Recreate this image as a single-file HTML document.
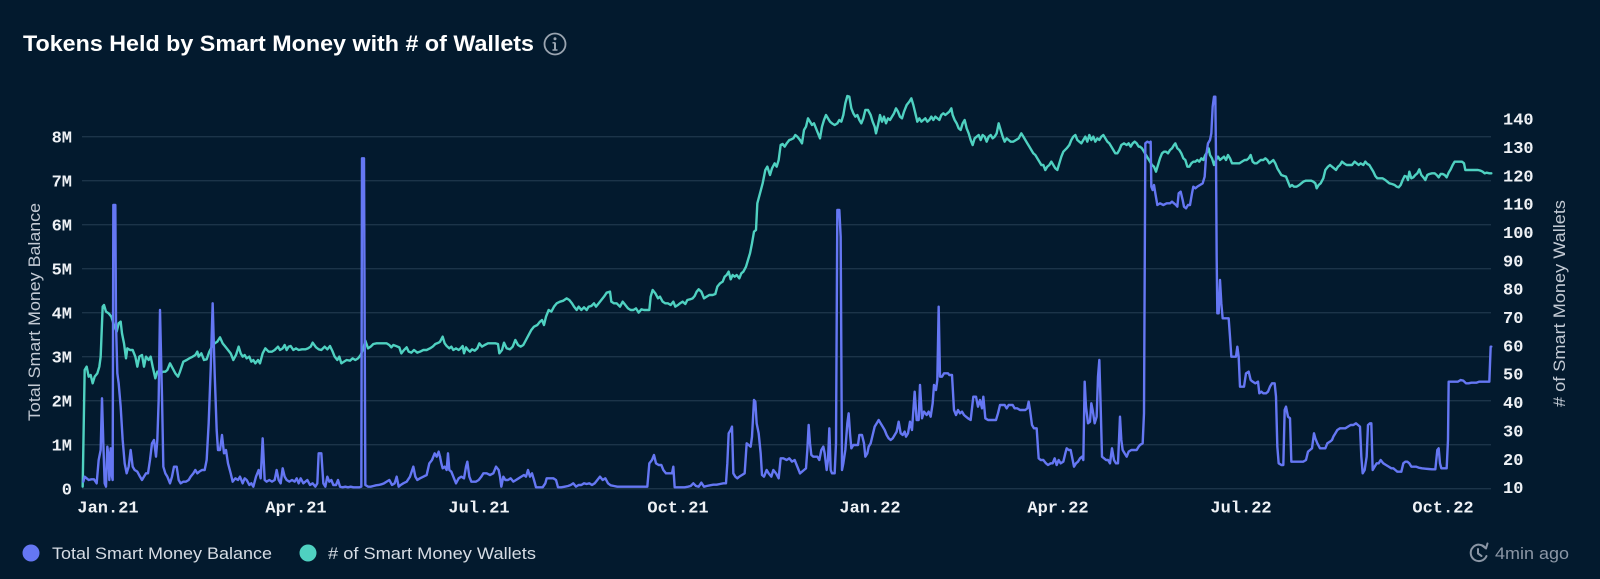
<!DOCTYPE html>
<html>
<head>
<meta charset="utf-8">
<style>
  html,body{margin:0;padding:0;background:#031a2e;}
  svg{display:block;}
  .ax{font-family:"Liberation Mono",monospace;font-weight:bold;font-size:17px;fill:#eef1f5;}
  .sans{font-family:"Liberation Sans",sans-serif;}
</style>
</head>
<body>
<svg width="1600" height="579" viewBox="0 0 1600 579" xmlns="http://www.w3.org/2000/svg">
  <rect x="0" y="0" width="1600" height="579" fill="#031a2e"/>

  <!-- Title -->
  <text class="sans" x="23" y="51" font-size="22" font-weight="bold" fill="#ffffff" textLength="511" lengthAdjust="spacingAndGlyphs">Tokens Held by Smart Money with # of Wallets</text>
  <circle cx="555" cy="44" r="10.5" fill="none" stroke="#9aa4b0" stroke-width="1.8"/>
  <circle cx="555" cy="38.8" r="1.5" fill="#9aa4b0"/>
  <line x1="555" y1="42.5" x2="555" y2="50" stroke="#9aa4b0" stroke-width="2"/>
  <line x1="552.5" y1="42.8" x2="555" y2="42.8" stroke="#9aa4b0" stroke-width="1.5"/>
  <line x1="552.5" y1="50" x2="557.5" y2="50" stroke="#9aa4b0" stroke-width="1.5"/>

  <!-- Gridlines -->
  <g stroke="#1c3449" stroke-width="1.3">
    <line x1="82" y1="136.7" x2="1491" y2="136.7"/>
    <line x1="82" y1="180.7" x2="1491" y2="180.7"/>
    <line x1="82" y1="224.7" x2="1491" y2="224.7"/>
    <line x1="82" y1="268.7" x2="1491" y2="268.7"/>
    <line x1="82" y1="312.7" x2="1491" y2="312.7"/>
    <line x1="82" y1="356.7" x2="1491" y2="356.7"/>
    <line x1="82" y1="400.7" x2="1491" y2="400.7"/>
    <line x1="82" y1="444.7" x2="1491" y2="444.7"/>
    <line x1="82" y1="488.7" x2="1491" y2="488.7"/>
  </g>

  <!-- Left axis labels -->
  <g class="ax" text-anchor="end">
    <text x="72" y="142.5">8M</text>
    <text x="72" y="186.5">7M</text>
    <text x="72" y="230.5">6M</text>
    <text x="72" y="274.5">5M</text>
    <text x="72" y="318.5">4M</text>
    <text x="72" y="362.5">3M</text>
    <text x="72" y="406.5">2M</text>
    <text x="72" y="450.5">1M</text>
    <text x="72" y="494.5">0</text>
  </g>

  <!-- Right axis labels -->
  <g class="ax" text-anchor="start">
    <text x="1503" y="124.6">140</text>
    <text x="1503" y="152.9">130</text>
    <text x="1503" y="181.3">120</text>
    <text x="1503" y="209.6">110</text>
    <text x="1503" y="238.0">100</text>
    <text x="1503" y="266.3">90</text>
    <text x="1503" y="294.7">80</text>
    <text x="1503" y="323.0">70</text>
    <text x="1503" y="351.4">60</text>
    <text x="1503" y="379.7">50</text>
    <text x="1503" y="408.1">40</text>
    <text x="1503" y="436.4">30</text>
    <text x="1503" y="464.8">20</text>
    <text x="1503" y="493.1">10</text>
  </g>

  <!-- X axis labels -->
  <g class="ax" text-anchor="middle">
    <text x="108" y="512.5">Jan.21</text>
    <text x="296" y="512.5">Apr.21</text>
    <text x="479" y="512.5">Jul.21</text>
    <text x="678" y="512.5">Oct.21</text>
    <text x="870" y="512.5">Jan.22</text>
    <text x="1058" y="512.5">Apr.22</text>
    <text x="1241" y="512.5">Jul.22</text>
    <text x="1443" y="512.5">Oct.22</text>
  </g>

  <!-- Axis titles -->
  <text class="sans" transform="translate(34,312) rotate(-90)" x="0" y="6" text-anchor="middle" font-size="17" fill="#c3cad4" textLength="218" lengthAdjust="spacingAndGlyphs">Total Smart Money Balance</text>
  <text class="sans" transform="translate(1559,303.5) rotate(-90)" x="0" y="6" text-anchor="middle" font-size="17" fill="#c3cad4" textLength="207" lengthAdjust="spacingAndGlyphs"># of Smart Money Wallets</text>

  <!-- Teal series: # of wallets -->
  <g fill="none" stroke="#4fd1c1" stroke-width="2.4" stroke-linejoin="round" stroke-linecap="round">
    <path vector-effect="non-scaling-stroke" transform="translate(80,90) scale(0.33333)" d="M8,1190 L14,840 20,830 26,860 32,855 38,880 44,860 52,850 58,830 62,800 68,650 72,645 78,665 86,670 94,680 100,700 110,725 116,700 122,695 126,730 132,760 138,805 142,775 150,780 158,780 166,800 172,830 178,800 186,795 192,830 198,800 206,810 212,800 218,830 226,865 232,845 240,850 250,845 256,845 262,840 270,820 278,835 286,850 294,860 300,845 310,815 320,810 328,805 338,800 346,795 352,785 356,800 364,790 372,810 380,808 388,785 396,770 404,760 412,755 420,742 428,760 436,770 444,780 452,790 460,810 468,795 476,770 482,790 488,800 494,795 500,805 508,800 514,815 520,810 526,820 534,810 540,820 548,790 556,775 566,785 576,785 584,780 594,770 600,780 608,775 614,765 620,780 626,770 632,768 640,780 648,775 656,780 666,778 676,778 684,775 692,770 698,758 708,772 716,778 724,780 734,770 742,778 750,768 758,785 764,800 772,810 778,800 784,820 792,815 800,810 810,812 818,805 826,810 834,805 842,795 850,775 856,752 864,775 872,770 880,762 890,760 900,760 910,760 920,760 928,765 934,772 940,765 948,768 958,772 964,790 972,780 980,772 986,785 994,788 1002,780 1012,788 1020,785 1030,780 1040,780 1050,775 1058,770 1066,762 1076,758 1080,755"/>
    <path vector-effect="non-scaling-stroke" transform="translate(440,90) scale(0.33333)" d="M0,755 L8,740 14,760 20,768 28,775 34,770 40,780 48,775 56,780 62,775 68,768 72,790 78,772 84,780 90,785 96,778 104,782 112,775 118,760 126,770 134,765 144,760 156,760 166,760 174,762 178,790 186,780 192,758 200,775 210,778 218,770 226,750 234,765 242,770 250,765 258,750 266,735 274,720 282,710 292,705 300,695 306,690 312,705 318,680 326,660 334,665 342,650 350,640 360,635 370,632 380,625 388,630 396,640 402,650 410,660 416,650 424,660 432,652 440,660 446,650 454,648 462,640 468,650 476,640 484,630 492,620 500,608 510,605 514,635 522,640 530,640 540,650 548,635 556,645 564,655 572,660 580,660 588,655 596,668 604,658 612,660 620,660 628,660 632,620 638,600 646,610 654,625 660,620 668,635 676,640 684,640 692,645 700,635 706,650 714,645 720,640 728,635 736,642 742,630 750,628 758,625 764,618 770,605 776,598 784,605 792,625 800,620 808,615 818,615 826,612 832,590 840,580 848,575 854,560 860,555 866,545 872,568 878,555 884,560 890,555 898,565 904,550 910,545 918,530 924,510 930,490 936,460 942,425 948,420 952,340 960,310 968,280 976,240 982,230 990,255 996,235 1004,220 1010,230 1016,210 1022,165 1028,162 1034,170 1040,160 1048,150 1054,148 1060,145 1066,135 1072,140 1080,150"/>
    <path vector-effect="non-scaling-stroke" transform="translate(800,90) scale(0.33333)" d="M0,150 L6,160 12,120 18,110 24,85 30,95 36,105 42,100 48,115 54,130 60,145 66,110 72,90 78,75 84,85 90,95 96,100 104,105 112,100 118,90 124,95 130,75 136,40 142,18 148,20 154,55 160,70 166,80 172,75 178,90 184,100 190,85 196,60 204,60 212,75 218,95 224,110 228,130 234,105 240,75 246,95 252,80 258,100 264,85 270,90 276,80 282,70 288,55 294,65 300,80 306,85 312,65 320,45 328,35 334,25 340,45 346,70 352,95 358,85 364,95 370,90 376,85 382,95 388,90 394,80 400,90 406,80 412,85 418,90 424,75 430,70 436,75 442,70 448,65 454,55 458,75 464,90 470,100 476,115 482,120 488,100 494,90 500,115 506,130 512,150 518,165 524,145 530,140 536,135 542,150 548,135 554,140 560,155 566,140 572,135 578,145 584,140 590,130 596,100 602,120 608,140 614,155 620,145 626,150 632,155 640,155 648,150 656,145 664,130 670,140 676,150 682,160 688,170 694,180 700,190 706,195 712,205 718,215 724,225 730,225 736,240 742,230 748,225 754,215 760,225 766,235 772,240 778,220 784,200 790,185 800,175 808,165 814,150 820,140 826,135 832,150 838,155 844,160 850,150 856,140 862,155 868,135 874,150 880,140 886,155 892,145 898,150 904,140 910,135 916,145 922,155 928,160 934,170 940,180 946,190 952,190 958,180 964,165 972,160 980,165 986,160 992,170 998,160 1004,155 1010,160 1016,170 1020,170"/>
    <path vector-effect="non-scaling-stroke" transform="translate(1140,90) scale(0.33333)" d="M0,170 L6,175 12,185 18,195 24,205 30,215 36,225 42,230 48,245 54,225 60,205 66,190 72,185 78,185 84,190 90,180 96,175 102,165 106,160 112,175 118,180 124,190 130,205 136,210 142,230 148,230 154,220 160,215 166,215 172,210 178,215 184,205 190,210 196,195 202,185 206,175 210,195 216,205 222,225 228,210 234,200 240,210 246,205 252,200 258,210 264,195 270,205 276,220 282,220 290,220 298,220 306,215 314,210 320,210 326,205 332,195 338,215 344,220 350,220 356,215 362,210 370,210 376,205 382,210 388,220 394,215 400,210 406,220 412,235 418,245 424,255 432,258 438,260 444,275 450,290 456,285 462,290 470,290 478,285 484,280 490,275 498,272 506,272 514,272 520,275 526,280 530,295 536,285 542,280 550,265 556,240 564,230 570,225 576,230 582,235 588,240 594,230 600,225 606,215 612,220 620,225 628,225 636,225 644,215 650,220 656,225 662,220 670,225 676,215 682,222 688,225 694,235 700,245 706,258 712,265 720,265 728,265 736,270 742,275 748,280 756,282 764,285 770,290 776,292 782,285 788,270 794,258 800,260 804,270 808,245 814,265 820,262 826,255 832,250 838,238 844,255 850,262 856,270 862,255 868,252 876,250 884,250 890,255 896,262 902,252 908,252 914,255 920,262 926,248 932,238 938,225 944,215 952,215 960,215 966,215 972,220 976,240 984,240 994,240 1004,240 1014,240 1022,242 1028,245 1034,250 1040,248 1048,250 1054,250"/>
  </g>

  <!-- Blue series: total balance -->
  <g fill="none" stroke="#6577f3" stroke-width="2.4" stroke-linejoin="round" stroke-linecap="round">
    <path vector-effect="non-scaling-stroke" transform="translate(80,90) scale(0.33333)" d="M10,1175 L14,1160 20,1165 26,1170 34,1168 42,1168 50,1180 56,1110 62,1080 66,925 70,1060 74,1180 78,1190 82,1070 86,1100 88,1170 92,1075 96,1160 98,1170 100,345 106,345 108,700 112,850 116,880 122,950 128,1050 134,1120 140,1150 146,1130 152,1080 158,1130 164,1140 172,1145 180,1160 186,1170 192,1160 198,1150 204,1150 210,1110 216,1060 222,1050 228,1100 232,1050 236,930 240,660 246,920 250,1130 256,1150 262,1160 270,1180 276,1160 282,1130 290,1130 296,1170 302,1180 310,1175 318,1175 326,1170 332,1160 340,1150 346,1140 352,1150 358,1145 366,1140 374,1140 380,1110 386,1000 392,840 398,640 404,850 410,1020 414,1080 420,1080 426,1035 432,1090 438,1080 444,1120 452,1150 458,1175 466,1165 474,1170 480,1160 488,1180 494,1165 500,1170 508,1185 514,1180 520,1190 528,1160 536,1140 542,1165 548,1045 554,1170 560,1175 568,1170 576,1175 584,1170 590,1140 596,1170 602,1180 608,1135 614,1160 620,1170 628,1175 636,1170 644,1175 650,1165 656,1180 662,1165 670,1180 676,1175 682,1170 690,1185 698,1180 706,1190 712,1180 716,1090 724,1090 730,1180 736,1190 742,1160 748,1175 754,1170 760,1185 768,1185 774,1170 780,1190 788,1192 796,1190 804,1192 812,1190 820,1192 830,1192 838,1192 844,1190 846,205 852,205 856,1185 864,1190 872,1190 880,1188 888,1186 896,1185 904,1183 912,1180 920,1175 928,1170 936,1185 944,1180 950,1160 956,1190 962,1185 970,1180 980,1175 990,1160 1000,1130 1006,1160 1012,1170 1020,1165 1030,1160 1040,1155 1048,1120 1056,1110 1064,1090 1070,1100 1076,1085 1080,1100"/>
    <path vector-effect="non-scaling-stroke" transform="translate(440,90) scale(0.33333)" d="M0,1100 L4,1120 8,1135 14,1130 20,1140 24,1090 28,1140 34,1145 40,1160 48,1180 56,1165 64,1160 72,1165 78,1130 82,1115 88,1160 94,1175 100,1175 108,1175 116,1170 124,1160 130,1150 140,1150 150,1155 160,1150 168,1130 176,1140 180,1160 184,1190 190,1160 196,1170 204,1170 212,1165 220,1175 228,1170 236,1165 244,1160 252,1155 258,1160 264,1140 270,1160 276,1150 282,1170 288,1192 298,1192 308,1192 316,1180 320,1165 330,1165 340,1165 348,1170 354,1192 364,1192 374,1190 384,1188 392,1185 400,1180 408,1190 416,1185 424,1185 432,1180 440,1182 448,1180 456,1185 464,1180 472,1170 480,1160 488,1170 496,1165 504,1180 512,1186 522,1188 532,1190 542,1190 552,1190 562,1190 572,1190 582,1190 592,1190 602,1190 612,1190 622,1190 628,1120 636,1110 642,1095 648,1120 656,1125 664,1125 670,1140 678,1150 688,1150 696,1150 700,1130 704,1192 712,1192 722,1192 734,1192 744,1190 752,1188 760,1180 768,1188 776,1190 784,1178 792,1190 800,1188 810,1186 820,1184 830,1184 840,1182 850,1180 858,1180 862,1120 866,1030 872,1020 876,1010 880,1150 886,1160 892,1165 898,1160 906,1155 914,1150 920,1060 926,1065 932,1070 936,1040 942,930 946,935 950,1000 956,1030 962,1090 966,1155 972,1160 980,1140 986,1150 994,1160 1000,1140 1008,1150 1016,1165 1022,1105 1030,1105 1040,1110 1048,1105 1056,1115 1064,1110 1070,1125 1076,1140 1080,1150"/>
    <path vector-effect="non-scaling-stroke" transform="translate(800,90) scale(0.33333)" d="M0,1150 L6,1145 12,1140 18,1135 22,1080 26,1005 30,1060 34,1095 40,1100 46,1100 52,1100 58,1110 64,1080 70,1070 74,1090 80,1140 84,1110 88,1015 92,1140 96,1150 104,1150 108,1060 112,360 118,360 122,440 126,1140 130,1120 136,1080 142,1000 146,970 150,1030 154,1075 160,1065 168,1065 174,1065 178,1035 186,1035 192,1060 196,1100 202,1090 206,1070 212,1060 218,1035 224,1010 230,1000 236,990 242,1000 248,1010 254,1020 260,1035 266,1045 272,1050 278,1045 284,1035 290,1025 296,995 302,1030 308,1035 314,1025 318,1040 324,1030 330,995 336,1020 344,905 350,990 356,990 360,885 366,985 372,965 380,975 386,965 392,980 398,940 402,885 408,900 412,870 416,650 420,860 426,860 432,850 438,850 444,850 448,855 456,855 462,960 468,975 474,960 480,970 486,965 492,975 498,980 504,985 512,990 520,920 528,920 534,950 540,930 546,955 550,920 556,985 564,990 572,990 580,990 588,990 594,970 600,945 608,945 614,945 620,955 626,945 632,945 638,945 644,955 652,955 660,960 668,960 676,960 682,955 686,935 690,960 696,1005 702,1015 710,1015 716,1105 722,1110 730,1110 738,1120 744,1125 752,1120 758,1120 764,1105 770,1125 776,1110 782,1120 790,1115 796,1090 800,1075 806,1080 812,1080 818,1110 822,1130 828,1120 834,1115 840,1105 846,1100 850,1110 854,875 858,950 864,1000 870,995 874,940 878,960 884,1000 890,980 894,860 898,810 902,950 906,1100 912,1105 918,1110 924,1110 930,1120 936,1075 942,1110 948,1120 954,1120 960,980 964,1050 968,1080 974,1090 980,1100 986,1085 994,1080 1002,1080 1010,1080 1016,1070 1020,1065"/>
    <path vector-effect="non-scaling-stroke" transform="translate(1140,90) scale(0.33333)" d="M0,1065 L8,1060 12,970 16,160 22,155 28,158 32,155 34,290 38,300 42,285 46,310 52,345 60,340 70,345 80,340 90,340 96,335 102,340 108,345 112,350 116,310 122,305 128,330 132,350 138,355 144,345 150,345 156,310 160,290 166,295 172,290 180,285 188,280 194,260 198,200 204,160 210,150 214,130 218,50 222,20 226,20 228,200 230,500 232,670 236,670 240,570 244,640 248,685 256,685 266,685 270,740 274,800 282,800 288,800 292,770 296,800 300,890 306,890 312,890 318,850 326,845 332,870 338,875 346,880 354,875 358,910 364,905 370,910 378,910 384,905 390,890 396,880 404,880 408,920 412,1070 416,1120 424,1125 430,1125 434,960 438,950 444,980 450,985 454,1115 462,1115 470,1115 480,1115 490,1115 498,1110 504,1085 510,1080 516,1075 522,1030 526,1045 532,1060 540,1075 548,1075 556,1075 562,1060 570,1055 576,1050 580,1040 586,1030 592,1020 600,1015 608,1015 616,1015 624,1010 632,1005 640,1005 648,1000 654,1005 660,1010 664,1100 668,1150 674,1140 680,1100 684,1005 690,1000 694,1000 698,1140 704,1130 710,1120 716,1120 722,1110 730,1120 738,1125 746,1130 754,1135 760,1135 766,1140 772,1145 778,1145 784,1145 790,1120 796,1115 802,1115 808,1120 814,1130 820,1130 828,1130 836,1133 846,1135 856,1136 866,1137 876,1138 886,1138 892,1080 896,1075 900,1120 904,1135 912,1135 920,1135 924,1050 926,875 934,875 944,875 954,875 962,870 970,872 978,880 986,880 994,878 1002,878 1010,878 1018,875 1026,875 1034,875 1042,875 1048,875 1052,770 1054,770"/>
  </g>

  <!-- Legend -->
  <circle cx="31" cy="553" r="8.5" fill="#6577f3"/>
  <text class="sans" x="52" y="559" font-size="17" fill="#d6dce4" textLength="220" lengthAdjust="spacingAndGlyphs">Total Smart Money Balance</text>
  <circle cx="308" cy="553" r="8.5" fill="#4fd1c1"/>
  <text class="sans" x="328" y="559" font-size="17" fill="#d6dce4" textLength="208" lengthAdjust="spacingAndGlyphs"># of Smart Money Wallets</text>

  <!-- Updated -->
  <g fill="none" stroke="#8b96a5" stroke-width="2" stroke-linecap="round" stroke-linejoin="round">
    <path d="M1485.5,548 A8.2,8.2 0 1 0 1486.5,556"/>
    <path d="M1482,545.5 L1486,548.5 L1487.5,543.5"/>
    <path d="M1478,549 L1478,553.5 L1481.5,556"/>
  </g>
  <text class="sans" x="1495" y="559" font-size="17" fill="#8b96a5" textLength="74" lengthAdjust="spacingAndGlyphs">4min ago</text>
</svg>
</body>
</html>
